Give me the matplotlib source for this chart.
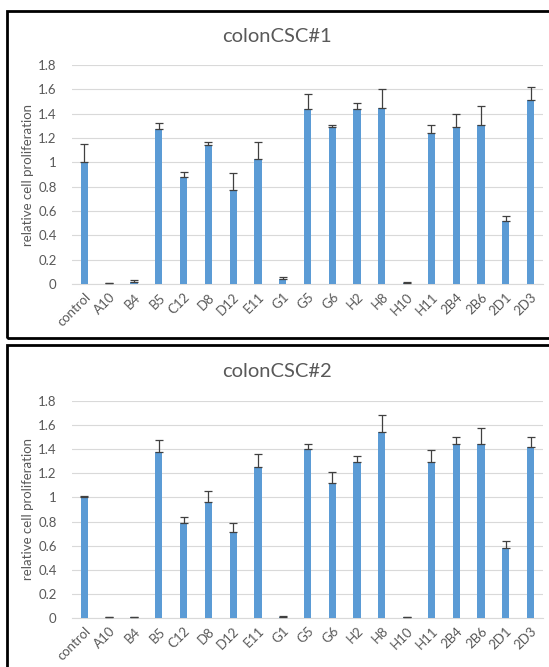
import matplotlib
matplotlib.use("Agg")
import matplotlib.pyplot as plt
from matplotlib.patches import Rectangle

plt.rcParams['font.family'] = ['Lato', 'DejaVu Sans']

labels = ["control", "A10", "B4", "B5", "C12", "D8", "D12", "E11", "G1", "G5",
          "G6", "H2", "H8", "H10", "H11", "2B4", "2B6", "2D1", "2D3"]

csc1_vals = [1.00, 0.005, 0.02, 1.27, 0.88, 1.14, 0.77, 1.03, 0.04, 1.44,
             1.29, 1.44, 1.45, 0.01, 1.24, 1.29, 1.31, 0.52, 1.515]
csc1_err = [0.15, 0.003, 0.01, 0.05, 0.04, 0.03, 0.14, 0.14, 0.02, 0.12,
            0.02, 0.05, 0.15, 0.01, 0.07, 0.11, 0.15, 0.04, 0.105]

csc2_vals = [1.00, 0.005, 0.005, 1.38, 0.79, 0.96, 0.715, 1.255, 0.01, 1.40,
             1.12, 1.29, 1.54, 0.005, 1.29, 1.44, 1.44, 0.58, 1.42]
csc2_err = [0.01, 0.003, 0.003, 0.10, 0.05, 0.09, 0.075, 0.105, 0.01, 0.04,
            0.09, 0.05, 0.14, 0.003, 0.10, 0.06, 0.14, 0.055, 0.08]

yticks = [0, 0.2, 0.4, 0.6, 0.8, 1, 1.2, 1.4, 1.6, 1.8]
ytick_labels = ["0", "0.2", "0.4", "0.6", "0.8", "1", "1.2", "1.4", "1.6", "1.8"]

BLUE = "#5B9BD5"
GREY = "#595959"
GRID = "#D9D9D9"

W, H = 549, 667
fig = plt.figure(figsize=(W / 100, H / 100), dpi=100)

def px(x0, y0, x1, y1):
    # pixel box (top-left origin) -> figure fraction [left, bottom, width, height]
    return [x0 / W, 1 - y1 / H, (x1 - x0) / W, (y1 - y0) / H]

def panel(rect, title, title_y, vals, errs):
    ax = fig.add_axes(rect)
    x = list(range(len(labels)))
    ax.bar(x, vals, width=0.29, color=BLUE, zorder=3,
           yerr=[[0] * len(errs), errs],
           error_kw=dict(ecolor="#404040", elinewidth=0.9, capsize=3.2, capthick=0.9))
    ax.set_xlim(-0.5, len(labels) - 0.5)
    ax.set_ylim(0, 1.8)
    ax.set_yticks(yticks)
    ax.set_yticklabels(ytick_labels)
    ax.set_xticks(x)
    ax.set_xticklabels(labels, rotation=45, ha="right", rotation_mode="anchor")
    ax.tick_params(length=0, colors=GREY, labelsize=9.5)
    ax.tick_params(axis="y", pad=11)
    ax.tick_params(axis="x", pad=5)
    ax.yaxis.grid(True, color=GRID, lw=0.8, zorder=0)
    for s in ("top", "right", "left"):
        ax.spines[s].set_visible(False)
    ax.spines["bottom"].set_color(GRID)
    ax.set_ylabel("relative cell proliferation", color=GREY, fontsize=9.5, labelpad=3)
    # title centred on the chart frame, not the plot area
    fig.text(277 / W, 1 - title_y / H, title, color=GREY, fontsize=14.5,
             ha="center", va="center")
    return ax

panel(px(72, 65, 543, 284), "colonCSC#1", 36, csc1_vals, csc1_err)
panel(px(72, 401, 543, 618), "colonCSC#2", 371, csc2_vals, csc2_err)

# black frames around each chart
for x0, y0, x1, y1 in [(7, 11, 555, 338), (7, 345, 555, 680)]:
    l, b, w, h = px(x0, y0, x1, y1)
    fig.patches.append(Rectangle((l, b), w, h, transform=fig.transFigure,
                                 fill=False, ec="black", lw=2, clip_on=False))

fig.savefig("out.png", dpi=100)
